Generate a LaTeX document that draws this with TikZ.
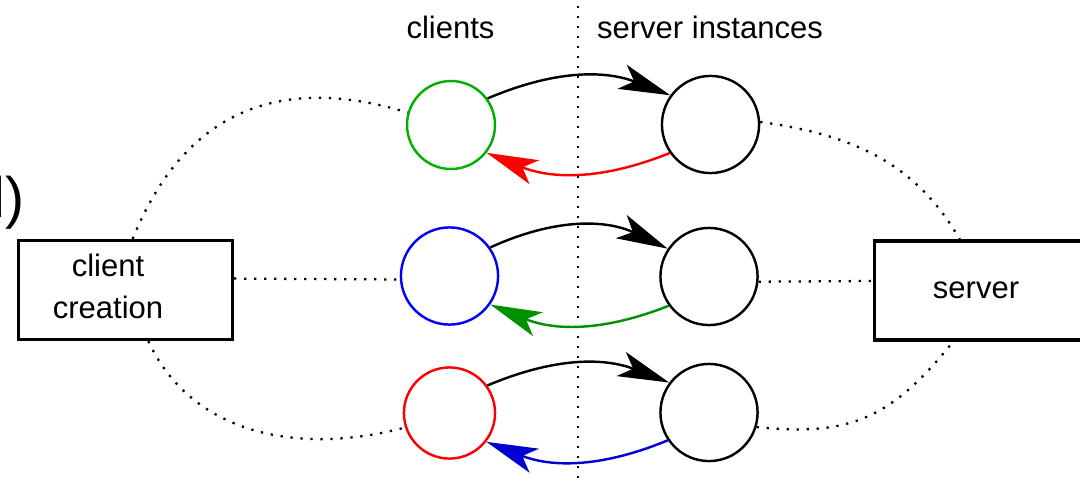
\documentclass[tikz,border=0pt]{standalone}
\usepackage{fontspec}
\setmainfont{Liberation Sans}
\usepackage{tikz}
\usetikzlibrary{arrows.meta, calc, positioning}

\definecolor{cgreen}{RGB}{0,176,0}
\definecolor{agreen}{RGB}{0,144,0}
\definecolor{ablue}{RGB}{0,0,208}

\begin{document}
\begin{tikzpicture}[x=0.35pt,y=-0.35pt,line width=0.85pt]
            \useasboundingbox (0,0) rectangle (1080,484);
            \tikzstyle{dots}=[line width=0.8pt,dash pattern=on 0.8pt off 2.7pt]
            \tikzstyle{msg}=[-{Stealth[length=18pt,width=9pt,inset=4.5pt]}]
            \tikzstyle{box}=[draw,rectangle,line width=1.15pt,minimum width=74.9pt,minimum height=34.65pt]

            % cut-off label of the neighbouring picture
            \node[anchor=base west,inner sep=0,font=\fontsize{20}{24}\selectfont] (sub) at (-46.5,217) {(d)};

            \begin{scope}[font=\fontsize{10.85}{14.7}\selectfont]
            \node[anchor=base] (l_c) at (450.5,39) {clients};
            \node[anchor=base] (l_s) at (710,39) {server instances};

            \node[box] (cc) at (125.5,290) {};
            \node[align=center] (cc_t) at (108,286) {client\\creation};
            \node[box] (sv) at (981.5,290.5) {};
            \node (sv_t) at (976,290) {server};
            \end{scope}

            \begin{scope}[shape=circle,minimum size=34pt]
            \tikzstyle{every node}=[draw]

            \node[cgreen,minimum size=30.8pt] (c_1) at (451,125) {};
            \node[blue] (c_2) at (449.5,276) {};
            \node[red,minimum size=31.9pt] (c_3) at (449.5,413) {};

            \node (s_1) at (710.5,124.5) {};
            \node (s_2) at (709,276.5) {};
            \node (s_3) at (709,412.5) {};
            \end{scope}

            \coordinate (top) at (578,6);
            \coordinate (bot) at (578,484);
            \draw [dots] (top) -- (bot);

            \draw [dots] (cc.82) to[out=68,in=163,looseness=1.15] (c_1.164);
            \draw [dots] (cc.6) -- (c_2.184);
            \draw [dots] (cc.-66) to[out=-65,in=195] (c_3.198);
            \draw [dots] (s_1.3) to[out=-8,in=120] (sv.113);
            \draw [dots] (s_2.-6) -- (sv.175);
            \draw [dots] (s_3.-17) to[out=-6,in=-129,looseness=1.15] (sv.-119);

            \draw [msg] (c_1.36) to[bend left=22] (s_1.144);
            \draw [msg,red] (s_1.215) to[bend left=22] (c_1.-38);
            \draw [msg] (c_2.35) to[bend left=25] (s_2.146);
            \draw [msg,agreen] (s_2.216) to[bend left=22] (c_2.-35);
            \draw [msg] (c_3.36) to[bend left=22] (s_3.143);
            \draw [msg,ablue] (s_3.214) to[bend left=22] (c_3.-38);
\end{tikzpicture}
\end{document}
